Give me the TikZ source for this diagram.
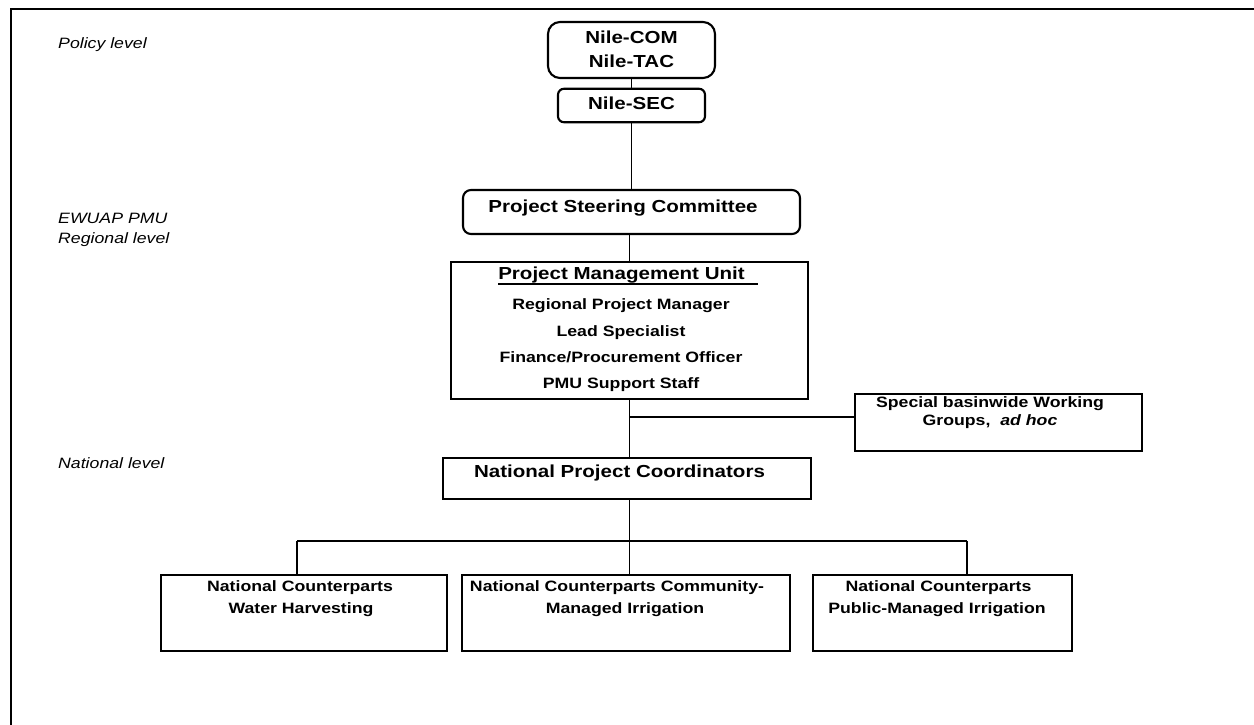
\documentclass[tikz,border=0pt]{standalone}
\usepackage{fontspec}
\setmainfont[FakeStretch=1.18]{Liberation Sans}
\begin{document}
\begin{tikzpicture}[x=1pt,y=-1pt,
  box/.style={draw, line width=2.1pt, inner sep=0pt},
  big/.style={font=\fontsize{17.4}{20}\selectfont\bfseries, inner sep=0pt, anchor=base},
  small/.style={font=\fontsize{15}{18}\selectfont\bfseries, inner sep=0pt, anchor=base},
  lvl/.style={font=\fontsize{15}{18}\selectfont\itshape, inner sep=0pt, anchor=base west},
  conn/.style={line width=1.6pt}]
\useasboundingbox (0,0) rectangle (1254,725);
\draw[line width=2.7pt] (11,726) -- (11,9) -- (1256,9);

% level labels
\node[lvl] (l1) at (58,49) {Policy level};
\node[lvl] (l2) at (58,223) {EWUAP PMU};
\node[lvl] (l3) at (58,243) {Regional level};
\node[lvl] (l4) at (58,468) {National level};

% boxes
\node[box, rounded corners=12pt, minimum width=167pt, minimum height=56pt] (com) at (631.5,50) {};
\node[box, rounded corners=6pt, minimum width=147pt, minimum height=33.5pt] (sec) at (631.5,105.5) {};
\node[box, rounded corners=8pt, minimum width=337pt, minimum height=44pt] (psc) at (631.5,212) {};
\node[box, minimum width=357pt, minimum height=137pt] (pmu) at (629.5,330.5) {};
\node[box, minimum width=287pt, minimum height=57pt] (spec) at (998.5,422.5) {};
\node[box, minimum width=368pt, minimum height=41pt] (npc) at (627,478.5) {};
\node[box, minimum width=286pt, minimum height=76pt] (b1) at (304,613) {};
\node[box, minimum width=328pt, minimum height=76pt] (b2) at (626,613) {};
\node[box, minimum width=259pt, minimum height=76pt] (b3) at (942.5,613) {};

% texts
\node[big] (comt1) at (631.5,43.5) {Nile-COM};
\node[big] (comt2) at (631.5,68) {Nile-TAC};
\node[big] (sect) at (631.5,110) {Nile-SEC};
\node[big] (psct) at (623,212) {Project Steering Committee};
\node[big] (pmut) at (621.5,279) {Project Management Unit};
\draw[line width=1.4pt] ([yshift=-5pt]pmut.base west) -- ([xshift=13pt,yshift=-5pt]pmut.base east);
\node[small] (pm1) at (621,309) {Regional Project Manager};
\node[small] (pm2) at (621,336) {Lead Specialist};
\node[small] (pm3) at (621,362.5) {Finance/Procurement Officer};
\node[small] (pm4) at (621,388) {PMU Support Staff};
\node[small] (sp1) at (990,407) {Special basinwide Working};
\node[small] (sp2) at (990,425.5) {Groups,\ \ \textit{ad hoc}};
\node[big] (npct) at (619.5,477) {National Project Coordinators};
\node[small] (b1a) at (300,591.5) {National Counterparts};
\node[small] (b1b) at (301,613.5) {Water Harvesting};
\node[small] (b2a) at (617,591.5) {National Counterparts Community-};
\node[small] (b2b) at (625,613.5) {Managed Irrigation};
\node[small] (b3a) at (938.5,591.5) {National Counterparts};
\node[small] (b3b) at (937,613.5) {Public-Managed Irrigation};

% connectors
\coordinate (br) at (629.5,417);
\coordinate (hub) at (629.5,541);
\coordinate (d1) at (297,541);
\coordinate (d3) at (967,541);
\draw[conn] (com.south) -- (sec.north);
\draw[conn] (sec.south) -- (sec.south |- psc.north);
\draw[conn] (pmu.north) -- (pmu.north |- psc.south);
\draw[conn] (pmu.south) -- (pmu.south |- npc.north);
\draw[conn] (br) -- (br -| spec.west);
\draw[conn] (hub |- npc.south) -- (hub);
\draw[conn] (d1) -- (d3);
\draw[conn] (d1) -- (d1 |- b1.north);
\draw[conn] (hub) -- (hub |- b2.north);
\draw[conn] (d3) -- (d3 |- b3.north);
\end{tikzpicture}
\end{document}
